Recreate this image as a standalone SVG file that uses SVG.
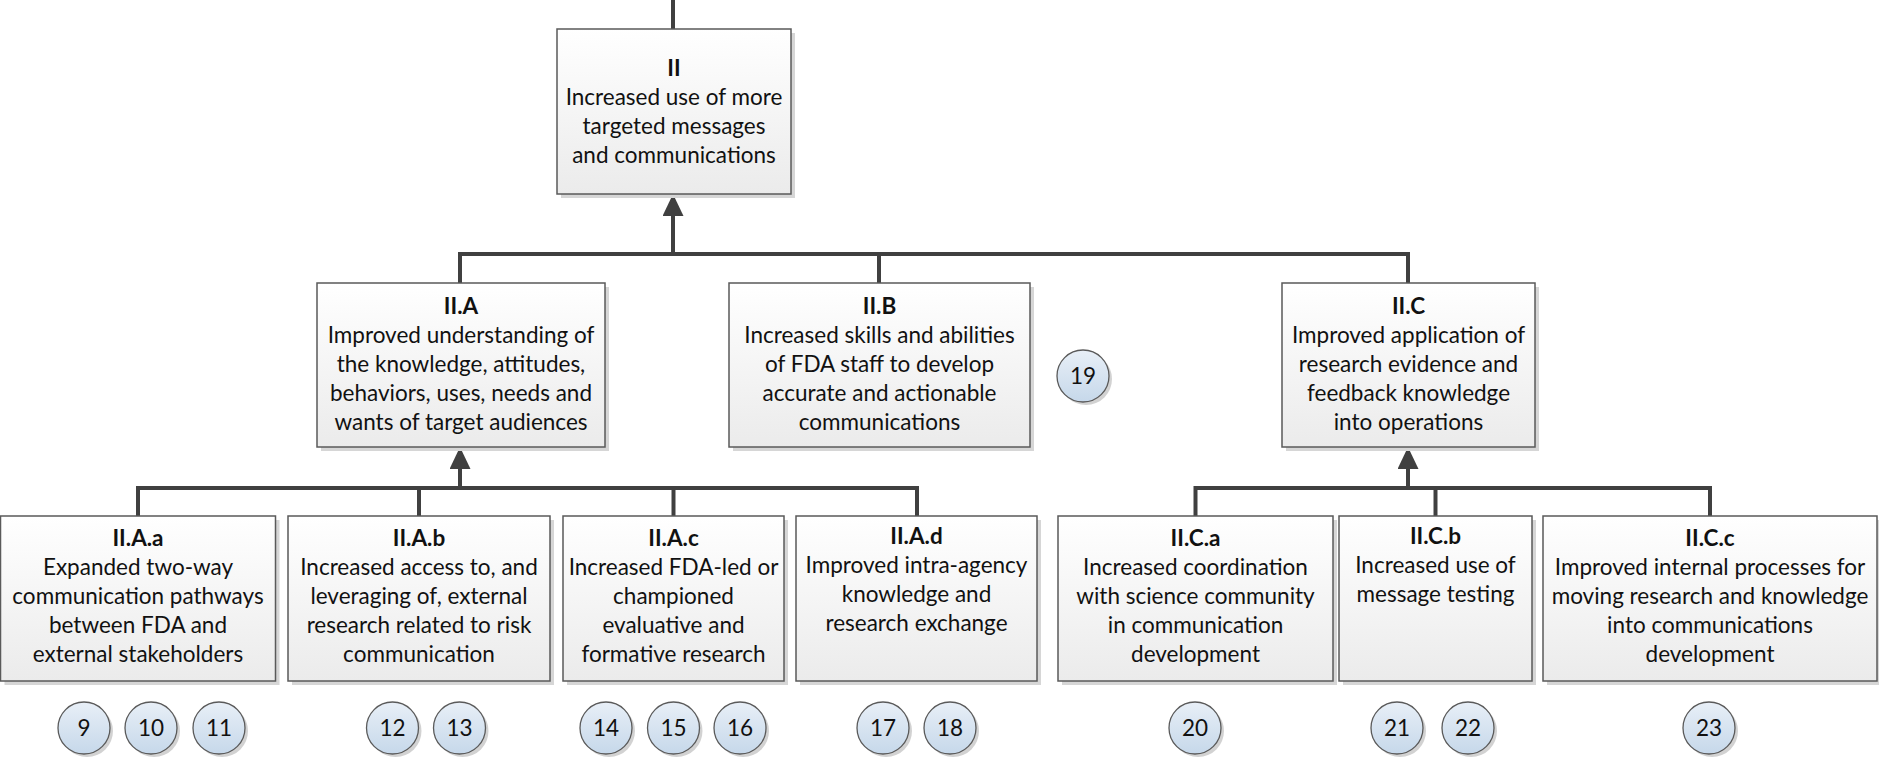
<svg xmlns="http://www.w3.org/2000/svg" width="1879" height="761" viewBox="0 0 1879 761">
<style>
.box{fill:url(#bg);stroke:#5a5a5a;stroke-width:1.5}
.sh{fill:#d6d6d6}
.t{font-family:Lato,"Liberation Sans",sans-serif;font-size:22.5px;fill:#111111;text-anchor:middle}
.b{font-weight:bold}
.conn{stroke:#404040;stroke-width:4;fill:none;stroke-linecap:butt}
.circ{fill:url(#cg);stroke:#5a5a5a;stroke-width:1.3}
.csh{fill:#d2d2d2}
</style>
<defs>
<linearGradient id="bg" x1="0" y1="0" x2="0" y2="1">
<stop offset="0" stop-color="#ffffff"/>
<stop offset="1" stop-color="#ebebeb"/>
</linearGradient>
<linearGradient id="cg" x1="0" y1="0" x2="0" y2="1">
<stop offset="0" stop-color="#e8eff7"/>
<stop offset="1" stop-color="#c6d8ea"/>
</linearGradient>
<marker id="ah" markerUnits="userSpaceOnUse" markerWidth="22" markerHeight="22" refX="0" refY="10.5" orient="auto">
<path d="M0,0 L22,10.5 L0,21 z" fill="#404040"/>
</marker>
</defs>

<g id="connectors">
<line class="conn" x1="673" y1="0" x2="673" y2="29"/>
<polyline class="conn" points="460,283 460,254 1408,254 1408,283"/>
<line class="conn" x1="879" y1="254" x2="879" y2="283"/>
<line class="conn" x1="673" y1="254" x2="673" y2="216" marker-end="url(#ah)"/>
<polyline class="conn" points="138,516 138,488 917,488 917,516"/>
<line class="conn" x1="419" y1="488" x2="419" y2="516"/>
<line class="conn" x1="673.5" y1="488" x2="673.5" y2="516"/>
<line class="conn" x1="460" y1="488" x2="460" y2="469" marker-end="url(#ah)"/>
<polyline class="conn" points="1195.5,516 1195.5,488 1710,488 1710,516"/>
<line class="conn" x1="1435.5" y1="488" x2="1435.5" y2="516"/>
<line class="conn" x1="1408" y1="488" x2="1408" y2="469" marker-end="url(#ah)"/>
</g>

<g id="n-II">
<rect class="sh" x="561" y="33" width="234" height="165"/>
<rect class="box" x="557" y="29" width="234" height="165"/>
<text class="t b" x="674" y="76">II</text>
<text class="t" x="674" y="105">Increased use of more</text>
<text class="t" x="674" y="134">targeted messages</text>
<text class="t" x="674" y="163">and communications</text>
</g>

<g id="n-IIA">
<rect class="sh" x="321" y="287" width="288" height="164"/>
<rect class="box" x="317" y="283" width="288" height="164"/>
<text class="t b" x="461" y="314">II.A</text>
<text class="t" x="461" y="343">Improved understanding of</text>
<text class="t" x="461" y="372">the knowledge, attitudes,</text>
<text class="t" x="461" y="401">behaviors, uses, needs and</text>
<text class="t" x="461" y="430">wants of target audiences</text>
</g>

<g id="n-IIB">
<rect class="sh" x="733" y="287" width="301" height="164"/>
<rect class="box" x="729" y="283" width="301" height="164"/>
<text class="t b" x="879.5" y="314">II.B</text>
<text class="t" x="879.5" y="343">Increased skills and abilities</text>
<text class="t" x="879.5" y="372">of FDA staff to develop</text>
<text class="t" x="879.5" y="401">accurate and actionable</text>
<text class="t" x="879.5" y="430">communications</text>
</g>

<g id="n-IIC">
<rect class="sh" x="1286" y="287" width="253" height="164"/>
<rect class="box" x="1282" y="283" width="253" height="164"/>
<text class="t b" x="1408.5" y="314">II.C</text>
<text class="t" x="1408.5" y="343">Improved application of</text>
<text class="t" x="1408.5" y="372">research evidence and</text>
<text class="t" x="1408.5" y="401">feedback knowledge</text>
<text class="t" x="1408.5" y="430">into operations</text>
</g>

<g id="n-IIAa">
<rect class="sh" x="4.5" y="520" width="275" height="165"/>
<rect class="box" x="0.5" y="516" width="275" height="165"/>
<text class="t b" x="138" y="546">II.A.a</text>
<text class="t" x="138" y="575">Expanded two-way</text>
<text class="t" x="138" y="604">communication pathways</text>
<text class="t" x="138" y="633">between FDA and</text>
<text class="t" x="138" y="662">external stakeholders</text>
</g>

<g id="n-IIAb">
<rect class="sh" x="292" y="520" width="262" height="165"/>
<rect class="box" x="288" y="516" width="262" height="165"/>
<text class="t b" x="419" y="546">II.A.b</text>
<text class="t" x="419" y="575">Increased access to, and</text>
<text class="t" x="419" y="604">leveraging of, external</text>
<text class="t" x="419" y="633">research related to risk</text>
<text class="t" x="419" y="662">communication</text>
</g>

<g id="n-IIAc">
<rect class="sh" x="567" y="520" width="221" height="165"/>
<rect class="box" x="563" y="516" width="221" height="165"/>
<text class="t b" x="673.5" y="546">II.A.c</text>
<text class="t" x="673.5" y="575">Increased FDA-led or</text>
<text class="t" x="673.5" y="604">championed</text>
<text class="t" x="673.5" y="633">evaluative and</text>
<text class="t" x="673.5" y="662">formative research</text>
</g>

<g id="n-IIAd">
<rect class="sh" x="800" y="520" width="241" height="165"/>
<rect class="box" x="796" y="516" width="241" height="165"/>
<text class="t b" x="916.5" y="544">II.A.d</text>
<text class="t" x="916.5" y="573">Improved intra-agency</text>
<text class="t" x="916.5" y="602">knowledge and</text>
<text class="t" x="916.5" y="631">research exchange</text>
</g>

<g id="n-IICa">
<rect class="sh" x="1062" y="520" width="275" height="165"/>
<rect class="box" x="1058" y="516" width="275" height="165"/>
<text class="t b" x="1195.5" y="546">II.C.a</text>
<text class="t" x="1195.5" y="575">Increased coordination</text>
<text class="t" x="1195.5" y="604">with science community</text>
<text class="t" x="1195.5" y="633">in communication</text>
<text class="t" x="1195.5" y="662">development</text>
</g>

<g id="n-IICb">
<rect class="sh" x="1343" y="520" width="193" height="165"/>
<rect class="box" x="1339" y="516" width="193" height="165"/>
<text class="t b" x="1435.5" y="544">II.C.b</text>
<text class="t" x="1435.5" y="573">Increased use of</text>
<text class="t" x="1435.5" y="602">message testing</text>
</g>

<g id="n-IICc">
<rect class="sh" x="1547" y="520" width="334" height="165"/>
<rect class="box" x="1543" y="516" width="334" height="165"/>
<text class="t b" x="1710" y="546">II.C.c</text>
<text class="t" x="1710" y="575">Improved internal processes for</text>
<text class="t" x="1710" y="604">moving research and knowledge</text>
<text class="t" x="1710" y="633">into communications</text>
<text class="t" x="1710" y="662">development</text>
</g>

<g id="c9"><circle class="csh" cx="87" cy="731" r="26"/><circle class="circ" cx="84" cy="728" r="26"/><text class="t" x="84" y="736">9</text></g>
<g id="c10"><circle class="csh" cx="154" cy="731" r="26"/><circle class="circ" cx="151" cy="728" r="26"/><text class="t" x="151" y="736">10</text></g>
<g id="c11"><circle class="csh" cx="222" cy="731" r="26"/><circle class="circ" cx="219" cy="728" r="26"/><text class="t" x="219" y="736">11</text></g>
<g id="c12"><circle class="csh" cx="395.5" cy="731" r="26"/><circle class="circ" cx="392.5" cy="728" r="26"/><text class="t" x="392.5" y="736">12</text></g>
<g id="c13"><circle class="csh" cx="462.5" cy="731" r="26"/><circle class="circ" cx="459.5" cy="728" r="26"/><text class="t" x="459.5" y="736">13</text></g>
<g id="c14"><circle class="csh" cx="609" cy="731" r="26"/><circle class="circ" cx="606" cy="728" r="26"/><text class="t" x="606" y="736">14</text></g>
<g id="c15"><circle class="csh" cx="676.5" cy="731" r="26"/><circle class="circ" cx="673.5" cy="728" r="26"/><text class="t" x="673.5" y="736">15</text></g>
<g id="c16"><circle class="csh" cx="743" cy="731" r="26"/><circle class="circ" cx="740" cy="728" r="26"/><text class="t" x="740" y="736">16</text></g>
<g id="c17"><circle class="csh" cx="886" cy="731" r="26"/><circle class="circ" cx="883" cy="728" r="26"/><text class="t" x="883" y="736">17</text></g>
<g id="c18"><circle class="csh" cx="953" cy="731" r="26"/><circle class="circ" cx="950" cy="728" r="26"/><text class="t" x="950" y="736">18</text></g>
<g id="c19"><circle class="csh" cx="1086" cy="379" r="26"/><circle class="circ" cx="1083" cy="376" r="26"/><text class="t" x="1083" y="384">19</text></g>
<g id="c20"><circle class="csh" cx="1198" cy="731" r="26"/><circle class="circ" cx="1195" cy="728" r="26"/><text class="t" x="1195" y="736">20</text></g>
<g id="c21"><circle class="csh" cx="1400" cy="731" r="26"/><circle class="circ" cx="1397" cy="728" r="26"/><text class="t" x="1397" y="736">21</text></g>
<g id="c22"><circle class="csh" cx="1471" cy="731" r="26"/><circle class="circ" cx="1468" cy="728" r="26"/><text class="t" x="1468" y="736">22</text></g>
<g id="c23"><circle class="csh" cx="1712" cy="731" r="26"/><circle class="circ" cx="1709" cy="728" r="26"/><text class="t" x="1709" y="736">23</text></g>
</svg>
